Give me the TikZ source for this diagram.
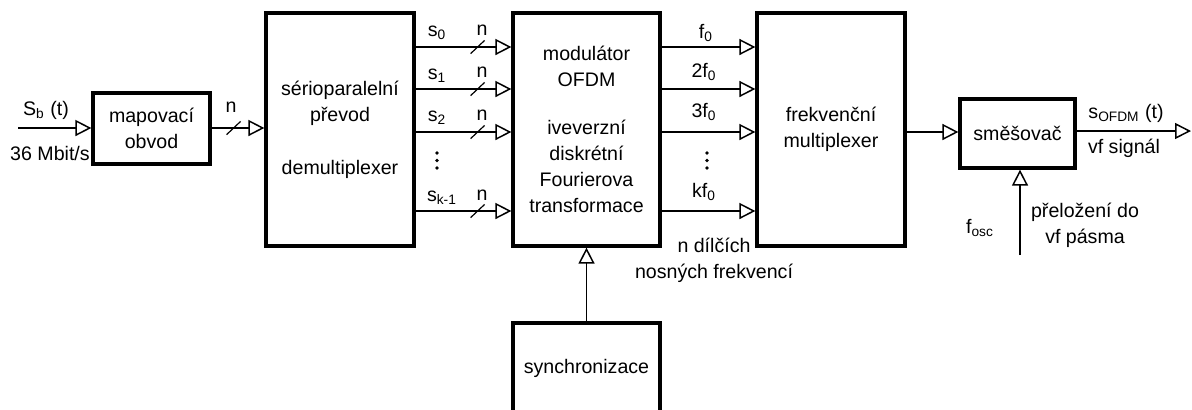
\documentclass[tikz,border=0pt]{standalone}
\usepackage{fontspec}
\setmainfont{Liberation Sans}
\usetikzlibrary{arrows.meta,decorations.markings}
\begin{document}
\begin{tikzpicture}[x=0.5pt,y=-0.5pt,
  every node/.style={font=\fontsize{9.8}{13}\selectfont},
  box/.style={draw, line width=1.6pt, inner sep=0pt, align=center},
  conn/.style={line width=0.75pt, -{Triangle[open,length=8pt,width=8pt]}},
  slashat/.style={postaction={decorate,decoration={markings,mark=at position #1 with {\draw[line width=0.6pt,-] (-3.5pt,-3.3pt) -- (3.5pt,3.3pt);}}}},
  lbl/.style={inner sep=0pt, align=center},
  vdot/.style={fill=black}]
\useasboundingbox (0,0) rectangle (1192,409);
\begin{scope}
\clip (0,0) rectangle (1192,409);
% boxes
\node[box, minimum width=58.5pt, minimum height=35.5pt] (map) at (151.5,128.5) {mapovací\\obvod};
\node[box, minimum width=74pt, minimum height=116.5pt] (sp) at (340,129.5) {sérioparalelní\\převod\\[13.5pt]demultiplexer};
\node[box, minimum width=73.5pt, minimum height=116.5pt] (mod) at (586.5,129.5) {modulátor\\OFDM\\[11pt]iveverzní\\diskrétní\\Fourierova\\transformace};
\node[box, minimum width=74pt, minimum height=116.5pt] (fmux) at (831,129.5) {frekvenční\\multiplexer};
\node[box, minimum width=57.5pt, minimum height=34.5pt] (mix) at (1017.5,133.5) {směšovač};
\node[box, minimum width=73.5pt, minimum height=45pt] (sync) at (586.5,368) {synchronizace};
% row coordinates
\coordinate (in) at (18,128);
\coordinate (r0) at (0,47);
\coordinate (r1) at (0,89);
\coordinate (r2) at (0,132);
\coordinate (rk) at (0,211);
\coordinate (mrow) at (0,132);
\coordinate (out) at (1191,131);
\coordinate (osc) at (1020,255);
% connectors
\draw[conn] (in) -- (map.west |- in);
\draw[conn,slashat=11pt] (map.east |- in) -- (sp.west |- in);
\foreach \r in {r0,r1,r2,rk}{
  \draw[conn,slashat=31pt] (sp.east |- \r) -- (mod.west |- \r);
  \draw[conn] (mod.east |- \r) -- (fmux.west |- \r);
}
\draw[conn] (fmux.east |- mrow) -- (mix.west |- mrow);
\draw[conn] (mix.east |- out) -- (out);
\draw[conn] (osc) -- (osc |- mix.south);
\draw[conn] (sync.north) -- (mod.south);
% vertical ellipses
\foreach \yy in {153,160.5,168}{
  \fill[vdot] (437,\yy) circle (0.9pt);
  \fill[vdot] (707,\yy) circle (0.9pt);
}
% labels
\node[lbl] (lsb) at (46,110) {S\textsubscript{b}\ (t)};
\node[lbl] (lrate) at (50,153) {36 Mbit/s};
\node[lbl] (ln0) at (231,107) {n};
\node[lbl] (ls0) at (437,33) {s\textsubscript{0}};
\node[lbl] (ls1) at (437,76) {s\textsubscript{1}};
\node[lbl] (ls2) at (437,118) {s\textsubscript{2}};
\node[lbl] (lsk) at (442,198) {s\textsubscript{k-1}};
\node[lbl] (ln1) at (482,30) {n};
\node[lbl] (ln2) at (482,72) {n};
\node[lbl] (ln3) at (482,115) {n};
\node[lbl] (ln4) at (482,195) {n};
\node[lbl] (lf0) at (706,33) {f\textsubscript{0}};
\node[lbl] (lf1) at (704,72) {2f\textsubscript{0}};
\node[lbl] (lf2) at (704,112) {3f\textsubscript{0}};
\node[lbl] (lfk) at (704,192) {kf\textsubscript{0}};
\node[lbl] (lnd) at (714,260) {n dílčích\\nosných frekvencí};
\node[lbl] (lsofdm) at (1126,113) {s\textsubscript{OFDM} (t)};
\node[lbl] (lvf) at (1124,148) {vf signál};
\node[lbl] (losc) at (980,228) {f\textsubscript{osc}};
\node[lbl] (lpre) at (1085,225) {přeložení do\\vf pásma};
\end{scope}
\end{tikzpicture}
\end{document}
